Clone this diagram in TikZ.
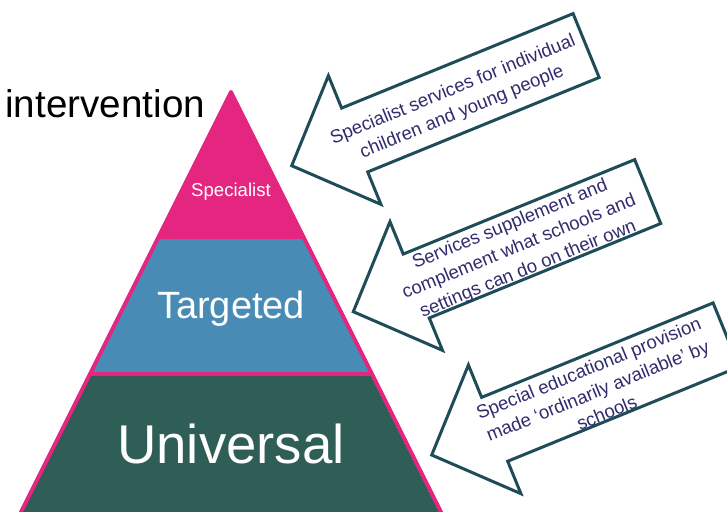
\documentclass[tikz,border=0pt]{standalone}
\usepackage{fontspec}
\setmainfont{Liberation Sans}

\definecolor{tierpink}{RGB}{229,38,128}
\definecolor{tierblue}{RGB}{72,140,182}
\definecolor{tiergreen}{RGB}{47,94,86}
\definecolor{noteline}{RGB}{30,77,88}
\definecolor{notetext}{RGB}{48,44,110}

\begin{document}
\begin{tikzpicture}[
        x=0.5pt, y=-0.5pt,
        tier/.style={text=white, inner sep=0pt, anchor=base},
        note/.style={text=notetext, align=center, inner sep=0pt,
            font=\fontsize{9.3}{12}\selectfont},
        outline/.style={draw=noteline, line width=1.5pt, fill=white, line join=miter},
        >=latex
    ]
    \def\tilt{22.2} % slope of the callout arrows

    \clip (0,0) rectangle (727,511);

    % pyramid corners
    \coordinate (apex) at (231,92);
    \coordinate (baseL) at (20,514);
    \coordinate (baseR) at (442,514);

    % three tiers, cut out of one triangle
    \begin{scope}
        \clip (apex) -- (baseR) -- (baseL) -- cycle;
        \fill[tiergreen] (0,0) rectangle (727,514);
        \fill[tierblue] (0,0) rectangle (727,374);
        \fill[tierpink] (0,0) rectangle (727,237);
        \draw[tierpink, line width=2pt] (0,237) -- (727,237) (0,374) -- (727,374);
    \end{scope}
    \draw[tierpink, line width=2pt, line join=round] (apex) -- (baseR) -- (baseL) -- cycle;

    \node[tier, font=\fontsize{9.3}{11}\selectfont] (specialist) at (231,196) {Specialist};
    \node[tier, font=\fontsize{19}{23}\selectfont] (targeted) at (231,318) {Targeted};
    \node[tier, font=\fontsize{27.3}{32}\selectfont] (universal) at (231,463) {Universal};

    \node[anchor=base west, inner sep=0pt, font=\fontsize{19.3}{23}\selectfont] (title) at (5,117) {intervention};

    % Callout arrows: tip position, name, text
    \foreach \tx/\ty/\name/\txt in {
            291.7/165.7/specnote/{Specialist services for individual\\children and young people},
            353.3/311.7/targnote/{Services supplement and\\complement what schools and\\settings can do on their own},
            431.7/455/univnote/{Special educational provision\\made ‘ordinarily available’ by\\schools}} {
        \begin{scope}[shift={(\tx,\ty)}, rotate=\tilt]
            \draw[outline] (0,0) -- (68,-69.5) -- (68,-34.5) -- (318,-34.5)
                -- (318,34.5) -- (68,34.5) -- (68,69.5) -- cycle;
            \node[note, rotate=\tilt] (\name) at (178,3) {\txt};
        \end{scope}
    }
\end{tikzpicture}
\end{document}
